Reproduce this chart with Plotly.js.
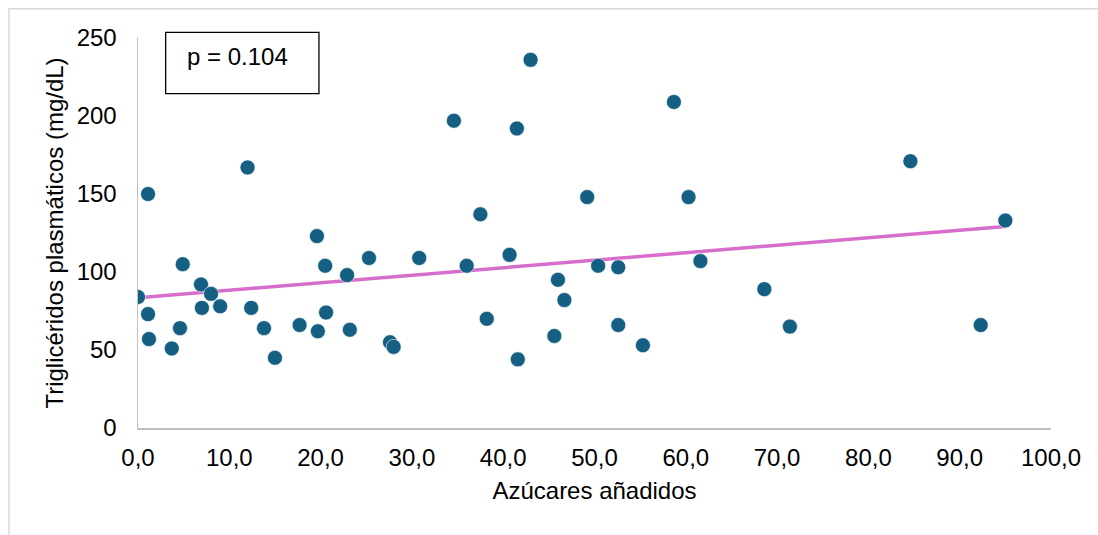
<!DOCTYPE html>
<html>
<head>
<meta charset="utf-8">
<script src="https://cdn.plot.ly/plotly-3.0.1.min.js"></script>
<style>
  html, body { margin: 0; padding: 0; background: #ffffff; }
  #chart { width: 1098px; height: 535px; }
</style>
</head>
<body>
<div id="chart"></div>
<script>
// Azúcares añadidos (x) and Triglicéridos plasmáticos (y)
const azucares = [
  0.0, 1.1, 1.1, 1.2, 3.7, 4.6, 4.9, 6.9, 7.0, 8.0,
  9.0, 12.0, 12.4, 13.8, 15.0, 17.7, 19.6, 19.7, 20.5, 20.6,
  22.9, 23.2, 25.3, 27.6, 28.0, 30.8, 34.6, 36.0, 37.5, 38.2,
  40.7, 41.5, 41.6, 43.0, 45.6, 46.0, 46.7, 49.2, 50.4, 52.6,
  52.6, 55.3, 58.7, 60.3, 61.6, 68.6, 71.4, 84.6, 92.3, 95.0
];
const trigliceridos = [
  84, 150, 73, 57, 51, 64, 105, 92, 77, 86,
  78, 167, 77, 64, 45, 66, 123, 62, 104, 74,
  98, 63, 109, 55, 52, 109, 197, 104, 137, 70,
  111, 192, 44, 236, 59, 95, 82, 148, 104, 103,
  66, 53, 209, 148, 107, 89, 65, 171, 66, 133
];
const xTickVals = [0, 10, 20, 30, 40, 50, 60, 70, 80, 90, 100];
const xTickText = ["0,0", "10,0", "20,0", "30,0", "40,0", "50,0", "60,0", "70,0", "80,0", "90,0", "100,0"];
const yTickVals = [0, 50, 100, 150, 200, 250];
const pText = "p = 0.104";

// Linear (least squares) trendline over the data range
const n = azucares.length;
const mx = azucares.reduce((a, b) => a + b, 0) / n;
const my = trigliceridos.reduce((a, b) => a + b, 0) / n;
let sxy = 0, sxx = 0;
for (let i = 0; i < n; i++) {
  sxy += (azucares[i] - mx) * (trigliceridos[i] - my);
  sxx += (azucares[i] - mx) * (azucares[i] - mx);
}
const slope = sxy / sxx;
const intercept = my - slope * mx;
const xMin = Math.min(...azucares), xMax = Math.max(...azucares);
const trendX = [xMin, xMax];
const trendY = trendX.map(v => intercept + slope * v);

const FONT = "Liberation Sans, Arial, sans-serif";

const data = [
  {
    type: "scatter", mode: "lines", x: trendX, y: trendY,
    line: { color: "#D86ECC", width: 3.5 }, hoverinfo: "skip", showlegend: false
  },
  {
    type: "scatter", mode: "markers", x: azucares, y: trigliceridos,
    marker: { color: "#156082", size: 15, line: { color: "#ffffff", width: 0.6 } },
    showlegend: false
  }
];

const layout = {
  width: 1098, height: 535, autosize: false,
  paper_bgcolor: "#ffffff", plot_bgcolor: "#ffffff",
  margin: { l: 138, r: 47, t: 38, b: 107, pad: 0 },
  font: { family: FONT, color: "#000000", size: 24 },
  xaxis: {
    range: [0, 100], tickvals: xTickVals, ticktext: xTickText,
    showgrid: false, zeroline: false, showline: true,
    linecolor: "#BFBFBF", linewidth: 1.5, ticks: "", ticklabelstandoff: 8,
    tickfont: { family: FONT, size: 24, color: "#000000" },
    title: { text: "Azúcares añadidos", font: { family: FONT, size: 24, color: "#000000" }, standoff: 12 }
  },
  yaxis: {
    range: [0, 250], tickvals: yTickVals,
    showgrid: false, zeroline: false, showline: true,
    linecolor: "#BFBFBF", linewidth: 1.5, ticks: "", ticklabelstandoff: 15,
    tickfont: { family: FONT, size: 24, color: "#000000" },
    title: { text: "Triglicéridos plasmáticos (mg/dL)", font: { family: FONT, size: 24, color: "#000000" }, standoff: 6 }
  },
  shapes: [
    // outer chart frame (only top and left edges are visible)
    { type: "rect", xref: "paper", yref: "paper", x0: -0.1413, x1: 1.3, y0: -0.6, y1: 1.0751,
      line: { color: "#D9D9D9", width: 1.5 }, fillcolor: "rgba(0,0,0,0)", layer: "below" },
    // p-value box
    { type: "rect", xref: "paper", yref: "paper", x0: 0.0303, x1: 0.1982, y0: 0.8573, y1: 1.0143,
      line: { color: "#000000", width: 1.3 }, fillcolor: "#ffffff" }
  ],
  annotations: [
    { xref: "paper", yref: "paper", x: 0.0517, y: 0.952, xanchor: "left", yanchor: "middle",
      text: pText, showarrow: false, font: { family: FONT, size: 24, color: "#000000" } }
  ]
};

Plotly.newPlot("chart", data, layout, { displayModeBar: false, staticPlot: true });
</script>
</body>
</html>
